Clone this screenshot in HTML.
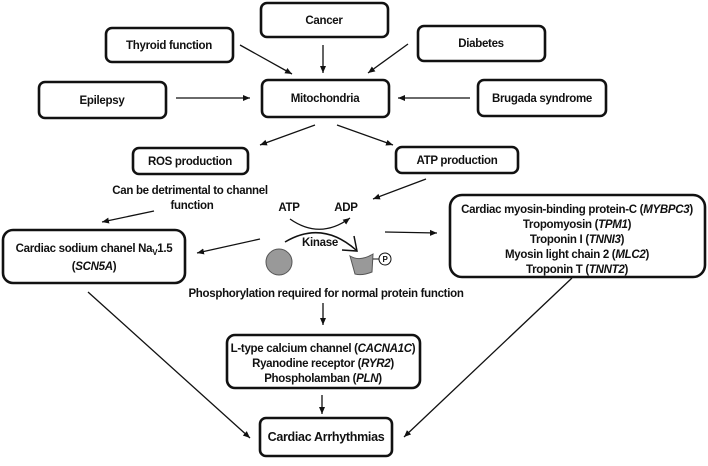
<!DOCTYPE html>
<html><head><meta charset="utf-8"><style>
body{margin:0;background:#fff;width:708px;height:461px;overflow:hidden}
svg text{font-family:"Liberation Sans",sans-serif;font-weight:bold;font-size:11.5px;fill:#111;text-anchor:middle;letter-spacing:-0.3px}
</style></head><body>
<svg width="708" height="461" viewBox="0 0 708 461" xmlns="http://www.w3.org/2000/svg">
<defs><marker id="a" markerWidth="8" markerHeight="8" refX="7" refY="4" orient="auto" markerUnits="userSpaceOnUse"><path d="M0,1 L7,4 L0,7 z" fill="#111"/></marker></defs>
<g fill="none" stroke="#111" stroke-width="2.6">
<rect x="261" y="3" width="127" height="34" rx="6"/>
<rect x="106" y="28" width="127" height="34" rx="6"/>
<rect x="418" y="26" width="127" height="35" rx="6"/>
<rect x="39" y="82" width="127" height="36" rx="6"/>
<rect x="262" y="80" width="127" height="37" rx="6"/>
<rect x="478" y="80" width="128" height="36" rx="6"/>
<rect x="133" y="148" width="115" height="26" rx="6"/>
<rect x="396" y="147" width="122" height="26" rx="6"/>
<rect x="3" y="230" width="182" height="53" rx="10"/>
<rect x="450" y="195" width="255" height="82" rx="12"/>
<rect x="227" y="335" width="193" height="53" rx="8"/>
<rect x="260" y="418" width="132" height="38" rx="6"/>
</g>
<g stroke="#111" stroke-width="1.3" fill="none" marker-end="url(#a)">
<line x1="240" y1="45" x2="292" y2="74"/>
<line x1="323" y1="45" x2="323" y2="73"/>
<line x1="408" y1="44" x2="368" y2="73"/>
<line x1="176" y1="98" x2="250" y2="98"/>
<line x1="470" y1="98" x2="398" y2="98"/>
<line x1="315" y1="125" x2="260" y2="145"/>
<line x1="337" y1="125" x2="393" y2="145"/>
<line x1="426" y1="179" x2="373" y2="199"/>
<line x1="154" y1="211" x2="102" y2="222"/>
<line x1="260" y1="239" x2="197" y2="253"/>
<line x1="385" y1="232" x2="437" y2="233"/>
<line x1="323" y1="303" x2="323" y2="325"/>
<line x1="322" y1="395" x2="322" y2="414"/>
<line x1="88" y1="292" x2="250" y2="438"/>
<line x1="572" y1="278" x2="404" y2="437"/>
<path d="M290,219 Q320,240 350,218"/>
</g>
<path d="M285,242 Q322,220 356,250" stroke="#111" stroke-width="1.5" fill="none"/>
<path d="M354,236 L357,251 L342,250" stroke="#111" stroke-width="1.5" fill="none"/>
<circle cx="279" cy="262" r="13" fill="#999" stroke="#555"/>
<path d="M350,256 Q360,262 373,254 L372,272 Q362,276 355,274 Z" fill="#999" stroke="#555"/>
<line x1="373" y1="259" x2="379" y2="259" stroke="#111"/>
<circle cx="385" cy="259" r="6" fill="#fff" stroke="#111"/>
<text x="385" y="262" style="font-size:8px">P</text>
<text x="324" y="24">Cancer</text>
<text x="169" y="49">Thyroid function</text>
<text x="481" y="47">Diabetes</text>
<text x="102" y="104">Epilepsy</text>
<text x="325" y="102">Mitochondria</text>
<text x="542" y="102">Brugada syndrome</text>
<text x="190" y="165">ROS production</text>
<text x="457" y="164">ATP production</text>
<text x="190" y="194">Can be detrimental to channel</text>
<text x="192" y="209">function</text>
<text x="289" y="211">ATP</text>
<text x="346" y="211">ADP</text>
<text x="320" y="246">Kinase</text>
<text x="94" y="252">Cardiac sodium chanel Na<tspan dy="3" style="font-size:8px">V</tspan><tspan dy="-3">1.5</tspan></text>
<text x="94" y="270">(<tspan font-style="italic">SCN5A</tspan>)</text>
<text x="577" y="213">Cardiac myosin-binding protein-C (<tspan font-style="italic">MYBPC3</tspan>)</text>
<text x="577" y="228">Tropomyosin (<tspan font-style="italic">TPM1</tspan>)</text>
<text x="577" y="243">Troponin I (<tspan font-style="italic">TNNI3</tspan>)</text>
<text x="577" y="258">Myosin light chain 2 (<tspan font-style="italic">MLC2</tspan>)</text>
<text x="577" y="273">Troponin T (<tspan font-style="italic">TNNT2</tspan>)</text>
<text x="326" y="297">Phosphorylation required for normal protein function</text>
<text x="323" y="352">L-type calcium channel (<tspan font-style="italic">CACNA1C</tspan>)</text>
<text x="323" y="367">Ryanodine receptor (<tspan font-style="italic">RYR2</tspan>)</text>
<text x="323" y="382">Phospholamban (<tspan font-style="italic">PLN</tspan>)</text>
<text x="326" y="441" style="font-size:12.5px">Cardiac Arrhythmias</text>
</svg>
</body></html>
